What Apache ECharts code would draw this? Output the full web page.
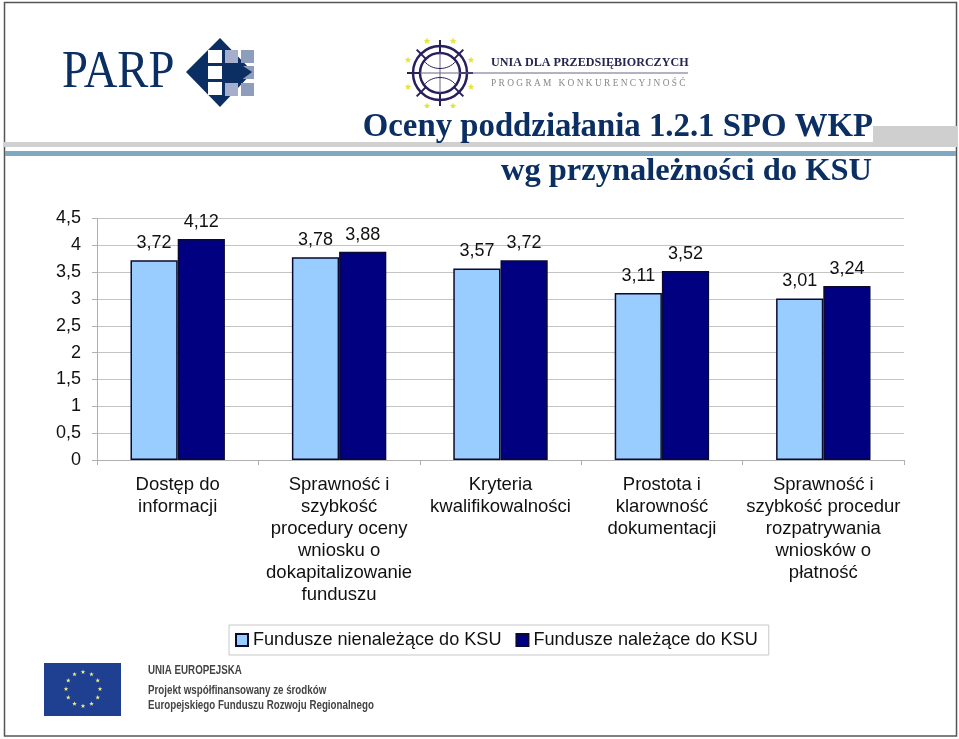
<!DOCTYPE html>
<html><head><meta charset="utf-8">
<style>html,body{margin:0;padding:0;background:#fff}#c{width:959px;height:739px}</style>
<script src="https://cdn.jsdelivr.net/npm/echarts@6/dist/echarts.min.js"></script>
</head><body><div id="c"></div>
<script>
const categories = ['Dostęp do\ninformacji','Sprawność i\nszybkość\nprocedury oceny\nwniosku o\ndokapitalizowanie\nfunduszu','Kryteria\nkwalifikowalności','Prostota i\nklarowność\ndokumentacji','Sprawność i\nszybkość procedur\nrozpatrywania\nwniosków o\npłatność'];
const seriesA = [3.72,3.78,3.57,3.11,3.01];
const seriesB = [4.12,3.88,3.72,3.52,3.24];
const nameA = 'Fundusze nienależące do KSU';
const nameB = 'Fundusze należące do KSU';
const titleLines = ['Oceny poddziałania 1.2.1 SPO WKP','wg przynależności do KSU'];
const comma = v => String(v).replace('.',',');
const NAVY = '#0b2f62';
const SANS = '"Liberation Sans",Arial,sans-serif', SERIF = '"Liberation Serif",serif';

function star(cx,cy,r,fill){
  const pts=[];
  for(let i=0;i<10;i++){const a=-Math.PI/2+i*Math.PI/5,q=i%2?r*0.42:r;pts.push([cx+q*Math.cos(a),cy+q*Math.sin(a)]);}
  return {type:'polygon',shape:{points:pts},style:{fill},silent:true};
}
const rect=(x,y,w,h,fill,z)=>({type:'rect',shape:{x,y,width:w,height:h},style:{fill},z:z||0,silent:true});
const txt=(x,y,text,font,fill,sx)=>({type:'text',x,y,scaleX:sx||1,style:{text,font,fill,textVerticalAlign:'middle'},z:5,silent:true});
const line=(x1,y1,x2,y2,stroke,w)=>({type:'line',shape:{x1,y1,x2,y2},style:{stroke,lineWidth:w},silent:true});

const g=[];
// frame
g.push({type:'rect',shape:{x:4.5,y:2.5,width:952,height:733.5},style:{fill:'none',stroke:'#555',lineWidth:1.5},silent:true});
// bands
g.push(rect(4,142,953,5,'#d0d0d0'));
g.push(rect(873,126,84,21,'#cfcfcf'));
g.push(rect(5,151,951,5,'#80a8c0'));
// PARP logo
g.push(txt(62,73,'PARP','53px '+SERIF,NAVY,0.88));
g.push({type:'polygon',shape:{points:[[220,38],[186,72],[220,107],[253,72]]},style:{fill:NAVY},silent:true});
[[225,50],[225,83]].forEach(p=>g.push(rect(p[0],p[1],13,13,'#a5aeca',2)));
[[241,50],[241,66],[241,83]].forEach(p=>g.push(rect(p[0],p[1],13,13,'#8f9dbd',2)));
[[208,50],[208,66],[208,82]].forEach(p=>g.push(rect(p[0],p[1],14,13,'#ffffff',3)));
g.push({type:'polygon',shape:{points:[[222,64],[240,64],[252,72],[240,81],[222,81]]},style:{fill:NAVY},z:4,silent:true});
// programme logo
const cx=440,cy=73,pur='#2a1f5c';
for(let i=0;i<8;i++){
  const a=i*Math.PI/4;
  g.push(line(cx+20*Math.cos(a),cy+20*Math.sin(a),cx+33*Math.cos(a),cy+33*Math.sin(a),pur,2));
}
g.push({type:'circle',shape:{cx,cy,r:27},style:{fill:'none',stroke:pur,lineWidth:2.5},silent:true});
g.push({type:'circle',shape:{cx,cy,r:20},style:{fill:'none',stroke:pur,lineWidth:2.5},silent:true});
g.push(line(cx,cy-20,cx,cy+20,'#6a6488',1));
g.push(line(cx-20,cy,688,cy,'#6a6488',1));
g.push({type:'bezierCurve',shape:{x1:cx-16,y1:cy-12,x2:cx+16,y2:cy-12,cpx1:cx-8,cpy1:cy-2,cpx2:cx+8,cpy2:cy-2},style:{fill:'none',stroke:pur,lineWidth:1},silent:true});
g.push({type:'bezierCurve',shape:{x1:cx-16,y1:cy+12,x2:cx+16,y2:cy+12,cpx1:cx-8,cpy1:cy+2,cpx2:cx+8,cpy2:cy+2},style:{fill:'none',stroke:pur,lineWidth:1},silent:true});
[[427,41],[453,41],[408,60],[471,60],[408,87],[471,87],[427,106],[453,106]].forEach(p=>g.push(star(p[0],p[1],3.6,'#e6e33c')));
g.push(txt(491,63,'UNIA DLA PRZEDSIĘBIORCZYCH','bold 12.1px '+SERIF,'#25254f'));
g.push(txt(491,84,'P R O G R A M   K O N K U R E N C Y J N O Ś Ć','9.4px '+SERIF,'#888'));
// EU flag + text
g.push(rect(44,663,77,53,'#1f3f91'));
for(let i=0;i<12;i++){const a=i*Math.PI/6;g.push(star(83+17*Math.cos(a),689+17*Math.sin(a),2.4,'#f2ee80'));}
g.push(txt(148,671,'UNIA EUROPEJSKA','bold 12.5px '+SANS,'#444',0.78));
g.push(txt(148,691,'Projekt współfinansowany ze środków','bold 12.5px '+SANS,'#444',0.78));
g.push(txt(148,706,'Europejskiego Funduszu Rozwoju Regionalnego','bold 12.5px '+SANS,'#444',0.78));
// white box behind first title line
g.push(rect(360,108,513,34,'#ffffff',1));

const chart=echarts.init(document.getElementById('c'),null,{renderer:'canvas'});
const labelBase={show:true,position:'top',distance:8,fontFamily:SANS,fontSize:18,color:'#111',formatter:p=>comma(p.value)};
chart.setOption({
  animation:false,
  backgroundColor:'#fff',
  graphic:g,
  title:[
    {text:titleLines[0],right:86,top:111,padding:0,z:10,textStyle:{fontFamily:SERIF,fontWeight:'bold',fontSize:32.8,color:NAVY}},
    {text:titleLines[1],right:87,top:155,padding:0,z:10,textStyle:{fontFamily:SERIF,fontWeight:'bold',fontSize:32.5,color:NAVY}}
  ],
  grid:{left:97,top:218.5,width:807,height:241.5,containLabel:false},
  legend:{left:229,top:625,padding:[6,11,6,6],itemGap:14,itemWidth:12,itemHeight:12,icon:'rect',borderColor:'#c8c8c8',borderWidth:1,backgroundColor:'#fff',
    textStyle:{fontFamily:SANS,fontSize:18.1,color:'#111',padding:0},data:[nameA,nameB]},
  xAxis:{type:'category',data:categories,boundaryGap:true,
    axisLine:{lineStyle:{color:'#b0b0b0',width:1}},axisTick:{show:true,length:5,alignWithLabel:false,lineStyle:{color:'#b0b0b0'}},
    axisLabel:{interval:0,margin:14,fontFamily:SANS,fontSize:18.5,lineHeight:22,color:'#111'}},
  yAxis:{type:'value',min:0,max:4.5,interval:0.5,
    axisLine:{show:true,lineStyle:{color:'#b0b0b0',width:1}},axisTick:{show:true,length:5,lineStyle:{color:'#b0b0b0'}},
    splitLine:{show:true,lineStyle:{color:'#c4c4c4',width:1}},
    axisLabel:{margin:16,fontFamily:SANS,fontSize:18,color:'#111',formatter:v=>comma(v)}},
  series:[
    {name:nameA,type:'bar',data:seriesA,barGap:'0%',barCategoryGap:'41.5%',itemStyle:{color:'#99ccff',borderColor:'#0a0a30',borderWidth:1.5},label:labelBase},
    {name:nameB,type:'bar',data:seriesB,itemStyle:{color:'#000080',borderColor:'#0a0a30',borderWidth:1.5},label:labelBase}
  ]
});
</script></body></html>
